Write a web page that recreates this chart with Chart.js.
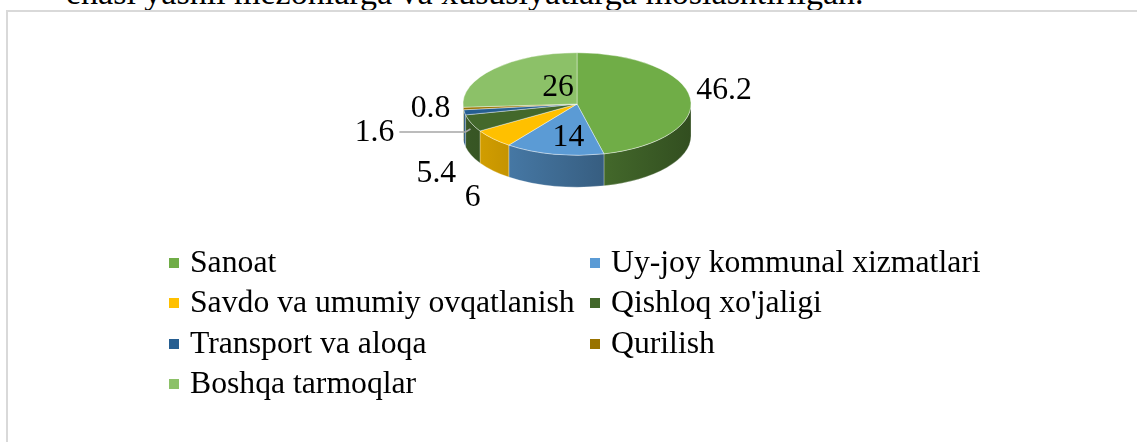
<!DOCTYPE html>
<html>
<head>
<meta charset="utf-8">
<script src="https://cdn.jsdelivr.net/npm/chart.js@4/dist/chart.umd.min.js"></script>
<style>
  body { margin: 0; background: #fff; width: 1137px; height: 442px; overflow: hidden; position: relative;
         font-family: "Liberation Serif", "Times New Roman", serif; color: #000; }
  #caption { position: absolute; left: 66px; top: -24px; font-size: 34px; line-height: 34px; white-space: nowrap; }
  #frame { position: absolute; left: 6px; top: 10px; width: 1140px; height: 440px; border: 2px solid #d9d9d9; }
  #chart { position: absolute; left: 0; top: 0; }
  .item { position: absolute; font-size: 31.7px; line-height: 40px; height: 40px; white-space: nowrap; }
  .box { position: absolute; width: 10px; height: 10px; left: 0; top: 16px; }
  .item span { position: absolute; left: 21px; top: 0; }
</style>
</head>
<body>
<div id="caption">ehasi yashil mezonlarga va xususiyatlarga moslashtirilgan.</div>
<div id="frame"></div>
<canvas id="chart" width="1137" height="442"></canvas>
<div id="legend"></div>
<script>
// Data
const labels = ["Sanoat","Uy-joy kommunal xizmatlari","Savdo va umumiy ovqatlanish","Qishloq xo'jaligi","Transport va aloqa","Qurilish","Boshqa tarmoqlar"];
const values = [46.2, 14, 6, 5.4, 1.6, 0.8, 26];
const colors = ["#70AD47","#5B9BD5","#FFC000","#43682B","#255E91","#997300","#8CC168"];

// label placement: [radius factor, dx, dy]
const labelPos = [[1.29,1,-8],[0.73,8,-5],[1.24,0,49],[1.33,0,42],[1.8,0,11],[1.29,0,-3],[0.3,6,-8]];

const CY = 104;      // top face centre y
const TILT = 0.45;   // ry / rx
const DEPTH = 32;

function shade(hex, f) {
    const n = parseInt(hex.slice(1), 16);
    const r = Math.round(((n >> 16) & 255) * f), g = Math.round(((n >> 8) & 255) * f), b = Math.round((n & 255) * f);
    return `rgb(${r},${g},${b})`;
}

// 3D look: side walls + squashed top face
const pie3d = {
    id: 'pie3d',
    beforeDatasetsDraw(chart) {
        const ctx = chart.ctx;
        const arcs = chart.getDatasetMeta(0).data;
        const cx = arcs[0].x, cy0 = arcs[0].y, r = arcs[0].outerRadius, ry = r * TILT;
        arcs.forEach((a, i) => {
            const lo = Math.max(a.startAngle, 0), hi = Math.min(a.endAngle, Math.PI);
            if (lo >= hi) return;
            const grad = ctx.createLinearGradient(cx - r, 0, cx + r, 0);
            grad.addColorStop(0, shade(colors[i], 0.85));
            grad.addColorStop(1, shade(colors[i], 0.45));
            ctx.beginPath();
            ctx.ellipse(cx, CY, r, ry, 0, lo, hi, false);
            ctx.lineTo(cx + r * Math.cos(hi), CY + ry * Math.sin(hi) + DEPTH);
            ctx.ellipse(cx, CY + DEPTH, r, ry, 0, hi, lo, true);
            ctx.closePath();
            ctx.fillStyle = grad;
            ctx.fill();
            ctx.strokeStyle = 'rgba(255,255,255,0.35)';
            ctx.lineWidth = 0.8;
            ctx.stroke();
        });
        ctx.save();
        ctx.translate(cx, CY);
        ctx.scale(1, TILT);
        ctx.translate(-cx, -cy0);
    },
    afterDatasetsDraw(chart) {
        const ctx = chart.ctx;
        ctx.restore();
        const arcs = chart.getDatasetMeta(0).data;
        const cx = arcs[0].x, r = arcs[0].outerRadius, ry = r * TILT;
        ctx.save();
        ctx.font = '31.7px "Liberation Serif", "Times New Roman", serif';
        ctx.fillStyle = '#000';
        ctx.textAlign = 'center';
        ctx.textBaseline = 'alphabetic';
        arcs.forEach((a, i) => {
            const m = (a.startAngle + a.endAngle) / 2;
            const [f, dx, dy] = labelPos[i];
            const x = cx + r * f * Math.cos(m) + dx;
            const y = CY + ry * f * Math.sin(m) + dy;
            const txt = String(values[i]);
            ctx.fillText(txt, x, y + 10.5);
            if (f > 1.6) {
                // leader line
                const w = ctx.measureText(txt).width;
                const ex = cx + r * Math.cos(m);
                ctx.beginPath();
                ctx.moveTo(x + w / 2 + 5, y + 2);
                ctx.lineTo(ex + 1, y + 2);
                ctx.lineTo(ex + 6, y - 1);
                ctx.strokeStyle = '#a6a6a6';
                ctx.lineWidth = 1.5;
                ctx.stroke();
            }
        });
        ctx.restore();
    }
};

new Chart(document.getElementById('chart'), {
    type: 'pie',
    data: {
        labels: labels,
        datasets: [{
            data: values,
            backgroundColor: colors,
            borderColor: 'rgba(255,255,255,0.55)',
            borderWidth: 1
        }]
    },
    options: {
        responsive: false,
        devicePixelRatio: 1,
        animation: false,
        radius: 114,
        layout: { padding: { left: 400, right: 383, top: 0, bottom: 150 } },
        plugins: { legend: { display: false }, tooltip: { enabled: false } }
    },
    plugins: [pie3d]
});

// Legend (two columns)
const legend = document.getElementById('legend');
labels.forEach((name, i) => {
    const item = document.createElement('div');
    item.className = 'item';
    item.style.left = (169 + (i % 2) * 421) + 'px';
    item.style.top = (242 + Math.floor(i / 2) * 40.3) + 'px';
    item.innerHTML = `<div class="box" style="background:${colors[i]}"></div><span>${name}</span>`;
    legend.appendChild(item);
});
</script>
</body>
</html>
